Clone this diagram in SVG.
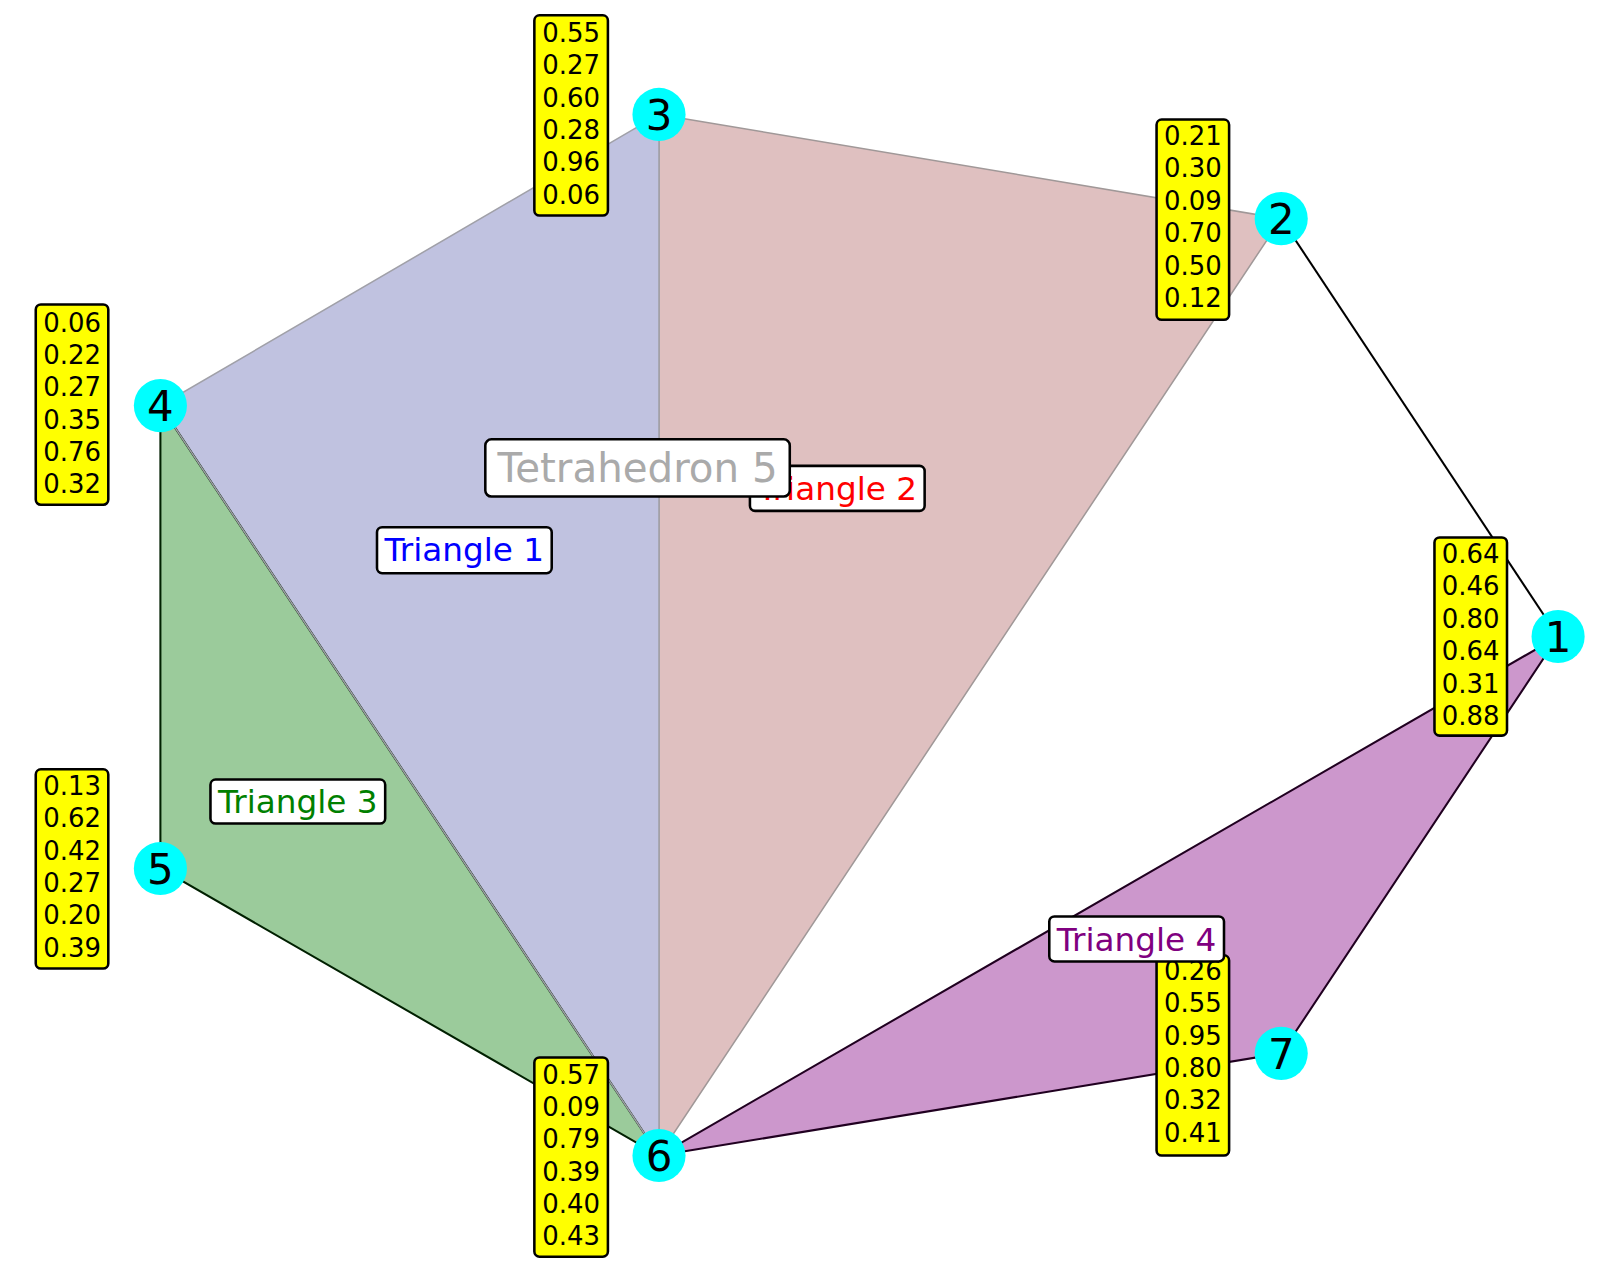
<svg xmlns="http://www.w3.org/2000/svg" width="1602" height="1268" viewBox="0 0 1602 1268">
<style>
text{font-family:"DejaVu Sans","Liberation Sans",sans-serif}
.node{fill:#00ffff}
.nl{font-size:41px;fill:#000;text-anchor:middle}
.yb{fill:#ffff00;stroke:#000;stroke-width:2.5}
.yt{font-size:25.4px;fill:#000;text-anchor:middle}
.lb{fill:#fff;stroke:#000;stroke-width:2.5}
.lt{font-size:32px;text-anchor:middle}
</style>
<rect width="1602" height="1268" fill="#fff"/>
<g transform="scale(1.0217)">
<g id="faces">
<polygon id="triangle2" points="645,112 1254,214 645,1131" fill="#dfc0c0" stroke="#a09898" stroke-width="1.5"/>
<polygon id="triangle1" points="645,112 157,397 645,1131" fill="#c0c2e0" stroke="#a0a0a8" stroke-width="1.5"/>
<polygon id="triangle3" points="157,397 157,850 645,1131" fill="#9bcb9b" stroke="#002000" stroke-width="2"/>
<line x1="157" y1="397" x2="645" y2="1131" stroke="#a0a0a8" stroke-width="1.5"/>
<polygon id="triangle4" points="1525,623 645,1131 1254,1031" fill="#cc97cc" stroke="#200020" stroke-width="2"/>
</g>
<g id="connectors">
<line x1="1254" y1="214" x2="1525" y2="623" stroke="#000" stroke-width="2"/>
</g>
<g id="nodes">
<g id="n1"><circle class="node" cx="1525" cy="623" r="26"/><text class="nl" x="1525" y="638">1</text></g>
<g id="n2"><circle class="node" cx="1254" cy="214" r="26"/><text class="nl" x="1254" y="229">2</text></g>
<g id="n3"><circle class="node" cx="645" cy="112" r="26"/><text class="nl" x="645" y="127">3</text></g>
<g id="n4"><circle class="node" cx="157" cy="397" r="26"/><text class="nl" x="157" y="412">4</text></g>
<g id="n5"><circle class="node" cx="157" cy="850" r="26"/><text class="nl" x="157" y="865">5</text></g>
<g id="n6"><circle class="node" cx="645" cy="1131" r="26"/><text class="nl" x="645" y="1146">6</text></g>
<g id="n7"><circle class="node" cx="1254" cy="1031" r="26"/><text class="nl" x="1254" y="1046">7</text></g>
</g>
<g id="values">
<g id="v3"><rect class="yb" x="523" y="15" width="72" height="196" rx="5"/>
<text class="yt" x="559" y="41">0.55</text><text class="yt" x="559" y="72.7">0.27</text><text class="yt" x="559" y="104.4">0.60</text><text class="yt" x="559" y="136.1">0.28</text><text class="yt" x="559" y="167.8">0.96</text><text class="yt" x="559" y="199.5">0.06</text></g>
<g id="v2"><rect class="yb" x="1132" y="117" width="71" height="196" rx="5"/>
<text class="yt" x="1167.5" y="142">0.21</text><text class="yt" x="1167.5" y="173.7">0.30</text><text class="yt" x="1167.5" y="205.4">0.09</text><text class="yt" x="1167.5" y="237.1">0.70</text><text class="yt" x="1167.5" y="268.8">0.50</text><text class="yt" x="1167.5" y="300.5">0.12</text></g>
<g id="v4"><rect class="yb" x="35" y="298" width="71" height="196" rx="5"/>
<text class="yt" x="70.5" y="324.5">0.06</text><text class="yt" x="70.5" y="356.2">0.22</text><text class="yt" x="70.5" y="387.9">0.27</text><text class="yt" x="70.5" y="419.6">0.35</text><text class="yt" x="70.5" y="451.3">0.76</text><text class="yt" x="70.5" y="483">0.32</text></g>
<g id="v5"><rect class="yb" x="35" y="753" width="71" height="195" rx="5"/>
<text class="yt" x="70.5" y="778">0.13</text><text class="yt" x="70.5" y="809.7">0.62</text><text class="yt" x="70.5" y="841.4">0.42</text><text class="yt" x="70.5" y="873.1">0.27</text><text class="yt" x="70.5" y="904.8">0.20</text><text class="yt" x="70.5" y="936.5">0.39</text></g>
<g id="v1"><rect class="yb" x="1404" y="526" width="71" height="194" rx="5"/>
<text class="yt" x="1439.5" y="551">0.64</text><text class="yt" x="1439.5" y="582.7">0.46</text><text class="yt" x="1439.5" y="614.4">0.80</text><text class="yt" x="1439.5" y="646.1">0.64</text><text class="yt" x="1439.5" y="677.8">0.31</text><text class="yt" x="1439.5" y="709.5">0.88</text></g>
<g id="v6"><rect class="yb" x="523" y="1035" width="72" height="195" rx="5"/>
<text class="yt" x="559" y="1060.5">0.57</text><text class="yt" x="559" y="1092.2">0.09</text><text class="yt" x="559" y="1123.9">0.79</text><text class="yt" x="559" y="1155.6">0.39</text><text class="yt" x="559" y="1187.3">0.40</text><text class="yt" x="559" y="1219">0.43</text></g>
<g id="v7"><rect class="yb" x="1132" y="935" width="71" height="196" rx="5"/>
<text class="yt" x="1167.5" y="959">0.26</text><text class="yt" x="1167.5" y="990.7">0.55</text><text class="yt" x="1167.5" y="1022.4">0.95</text><text class="yt" x="1167.5" y="1054.1">0.80</text><text class="yt" x="1167.5" y="1085.8">0.32</text><text class="yt" x="1167.5" y="1117.5">0.41</text></g>
</g>
<g id="labels">
<g id="lab-t2"><rect class="lb" x="734" y="456" width="171" height="44" rx="5"/><text class="lt" x="819.5" y="489" fill="#ff0000">Triangle 2</text></g>
<g id="lab-t5"><rect class="lb" x="475" y="430" width="298" height="56" rx="6"/><text x="624" y="471.5" font-size="39.5" fill="#aaaaaa" text-anchor="middle">Tetrahedron 5</text></g>
<g id="lab-t1"><rect class="lb" x="369" y="516" width="171" height="45" rx="5"/><text class="lt" x="454.5" y="549.5" fill="#0000ff">Triangle 1</text></g>
<g id="lab-t3"><rect class="lb" x="206" y="763" width="171" height="43" rx="5"/><text class="lt" x="291.5" y="795.5" fill="#008000">Triangle 3</text></g>
<g id="lab-t4"><rect class="lb" x="1027" y="897" width="171" height="44" rx="5"/><text class="lt" x="1112.5" y="930.5" fill="#800080">Triangle 4</text></g>
</g>
</g>
</svg>
